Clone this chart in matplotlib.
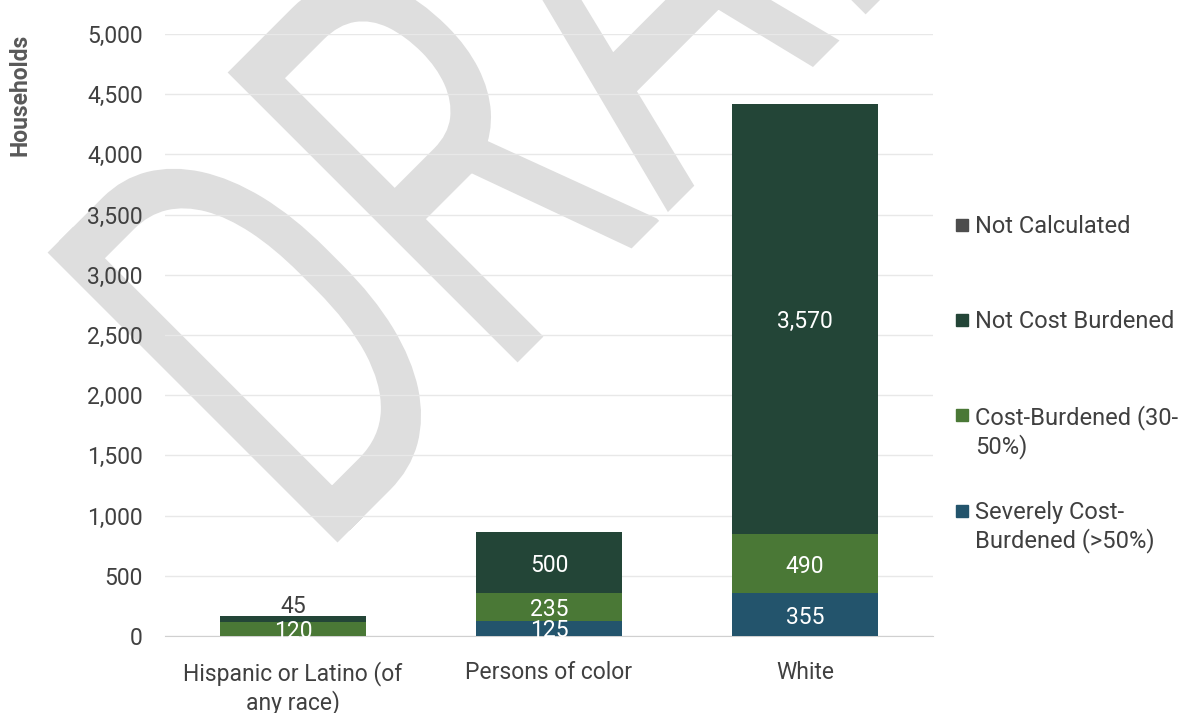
# households by cost burden, stacked bars
import matplotlib.pyplot as plt
from matplotlib.patches import Rectangle, PathPatch
from matplotlib.textpath import TextPath
from matplotlib.font_manager import FontProperties
from matplotlib.transforms import Affine2D

plt.rcParams['font.family'] = ['Roboto', 'DejaVu Sans']

categories = ['Hispanic or Latino (of\nany race)', 'Persons of color', 'White']
severely = [0, 125, 355]
burdened = [120, 235, 490]
not_burdened = [45, 500, 3570]
not_calc = [0, 0, 0]

series_names = ['Not Calculated', 'Not Cost Burdened', 'Cost-Burdened (30-\n50%)',
                'Severely Cost-\nBurdened (>50%)']
colors = {'sev': '#23546c', 'cb': '#4a7836', 'ncb': '#234537', 'nc': '#4d4d4d'}
W, H = 1187, 713
fs = 16.5

fig = plt.figure(figsize=(W / 100, H / 100), dpi=100)
ax = fig.add_axes([165 / W, 1 - 636 / H, (933 - 165) / W, (636 - 34) / H])

# DRAFT watermark: squeezed text, rotated 45 deg
tp = TextPath((0, 0), 'DRAFT', size=100, prop=FontProperties(family='Roboto'))
ext = tp.get_extents()
sy = 410 / ext.y1          # cap height in px
sx = 253 / 65.2            # D advance in px
tr = (Affine2D().translate(-ext.x0, 0).scale(sx, sy).rotate_deg(45)
      .translate(337.5, H - 542.5).scale(1 / W, 1 / H) + fig.transFigure)
wm = PathPatch(tp, transform=tr, facecolor='#dedede', edgecolor='none', zorder=-1)
fig.add_artist(wm)

x = range(len(categories))
w = 0.57
ax.bar(x, severely, w, color=colors['sev'], zorder=3)
bot2 = severely
ax.bar(x, burdened, w, bottom=bot2, color=colors['cb'], zorder=3)
bot3 = [a + b for a, b in zip(severely, burdened)]
ax.bar(x, not_burdened, w, bottom=bot3, color=colors['ncb'], zorder=3)
bot4 = [a + b for a, b in zip(bot3, not_burdened)]
ax.bar(x, not_calc, w, bottom=bot4, color=colors['nc'], zorder=3)

# labels
for i in x:
    if severely[i] > 0:
        ax.text(i, severely[i] / 2, f'{severely[i]:,}', ha='center', va='center_baseline',
                color='white', fontsize=fs, zorder=4)
    ax.text(i, bot2[i] + burdened[i] / 2, f'{burdened[i]:,}', ha='center',
            va='center_baseline', color='white', fontsize=fs, zorder=4)
    if not_burdened[i] > 100:
        ax.text(i, bot3[i] + not_burdened[i] / 2, f'{not_burdened[i]:,}', ha='center',
                va='center_baseline', color='white', fontsize=fs, zorder=4)
    else:
        ax.text(i, bot4[i] + 30, f'{not_burdened[i]:,}', ha='center', va='baseline',
                color='#404040', fontsize=fs, zorder=4)

ax.set_xlim(-0.5, 2.5)
ax.set_ylim(0, 5000)
ax.set_yticks(range(0, 5001, 500))
ax.set_yticklabels([f'{v:,}' for v in range(0, 5001, 500)])
ax.set_xticks(list(x))
ax.set_xticklabels(categories)
ax.tick_params(axis='both', length=0, labelsize=fs, colors='#404040')
ax.tick_params(axis='y', pad=16)
ax.tick_params(axis='x', pad=18)
ax.grid(axis='y', color='#e8e8e8', lw=1, zorder=0)
for s in ['top', 'right', 'left']:
    ax.spines[s].set_visible(False)
ax.spines['bottom'].set_color('#d0d0d0')
ax.patch.set_alpha(0)

fig.text(20 / W, 1 - 95 / H, 'Households', rotation=90, ha='center', va='center',
         fontsize=fs, fontweight='bold', color='#595959')

# legend drawn by hand to match spacing
leg = [(series_names[0], colors['nc'], 225), (series_names[1], colors['ncb'], 320),
       (series_names[2], colors['cb'], 415), (series_names[3], colors['sev'], 511)]
for name, c, yp in leg:
    fig.patches.append(Rectangle((956 / W, 1 - (yp + 6) / H), 12 / W, 12 / H,
                                 transform=fig.transFigure, color=c))
    fig.text(975 / W, 1 - (yp - 10) / H, name, ha='left', va='top', fontsize=17,
             color='#404040', linespacing=1.2)

fig.savefig('out.png', dpi=100)
